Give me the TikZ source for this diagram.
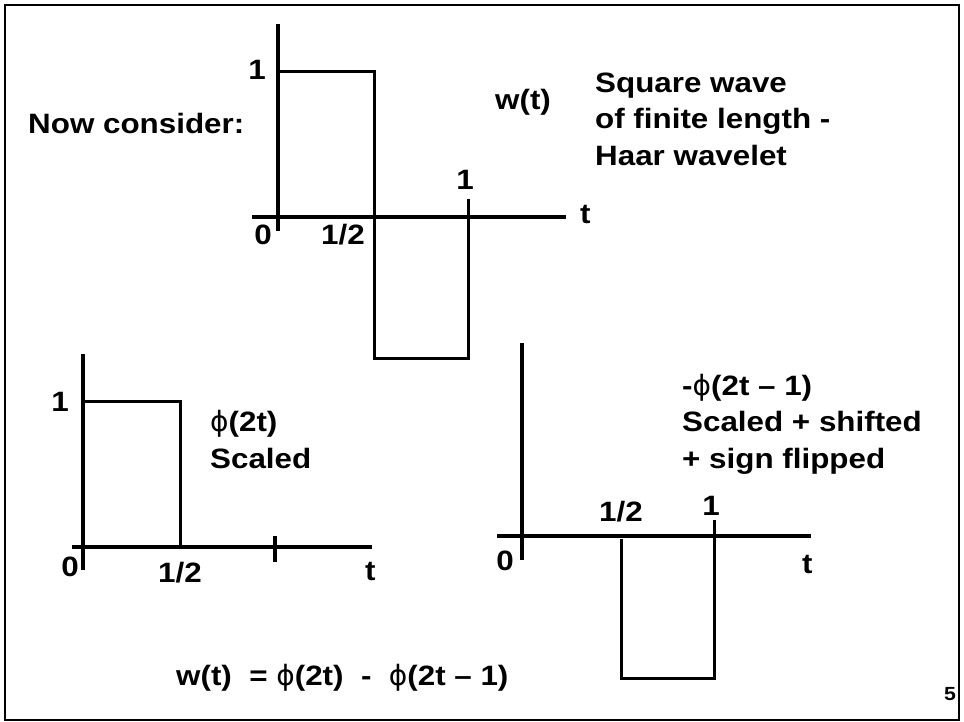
\documentclass[tikz,border=0pt]{standalone}
\usepackage{fontspec}
\setmainfont{Liberation Sans}[FakeStretch=1.12]
\newfontfamily\phifont{DejaVu Sans}
\newcommand{\ph}{{\phifont\mdseries ϕ}}
\usetikzlibrary{positioning}

\begin{document}
\begin{tikzpicture}[
  x=1pt, y=-1pt,
  lbl/.style={inner sep=0pt, font=\fontsize{28}{36.5}\selectfont\bfseries},
  txt/.style={lbl, anchor=base west, align=left},
  axis/.style={line width=3.6pt},
  sig/.style={line width=3pt, line join=miter}
]
\useasboundingbox (0,0) rectangle (964,721);
\draw[line width=2pt] (5,5) rectangle (959,720);

% top: w(t)
\draw[axis] (278,24) -- (278,231);
\draw[axis] (252,217) -- (566,217);
\draw[sig] (278,71) -- (374,71) -- (374,358) -- (468,358) -- (468,199);
\node[lbl] (w1) at (257,70) {1};
\node[lbl] (w0) at (263,235) {0};
\node[lbl] (whalf) at (343,235) {1/2};
\node[lbl] (wone) at (465,180) {1};
\node[txt] (wt) at (580,223) {t};
\node[txt] (wlab) at (495,109) {w(t)};
\node[txt] (now) at (28,133) {Now consider:};
\node[txt] (haar) at (595,165) {Square wave\\of finite length -\\Haar wavelet};

% left: phi(2t)
\draw[axis] (83,354) -- (83,570);
\draw[axis] (72,547) -- (372,547);
\draw[axis] (275,536) -- (275,562);
\draw[sig] (83,401) -- (180,401) -- (180,547);
\node[lbl] (p1) at (60,402) {1};
\node[lbl] (p0) at (70,567) {0};
\node[lbl] (phalf) at (180,573) {1/2};
\node[txt] (pt) at (365,580) {t};
\node[txt] (plab) at (210,468) {\ph(2t)\\Scaled};

% right: -phi(2t-1)
\draw[axis] (522,343) -- (522,560);
\draw[axis] (497,536) -- (811,536);
\draw[sig] (621,539) -- (621,678) -- (714,678) -- (714,520);
\node[lbl] (q0) at (505,561) {0};
\node[lbl] (qhalf) at (621,512) {1/2};
\node[lbl] (qone) at (711,506) {1};
\node[txt] (qt) at (802,573) {t};
\node[txt] (qlab) at (682,468) {-\ph(2t -- 1)\\Scaled + shifted\\+ sign flipped};

% sum
\node[txt] (sum) at (176,685) {w(t)\ \ = \ph(2t)\ \ -\ \ \ph(2t -- 1)};
\node[lbl, font=\fontsize{19}{22}\selectfont\bfseries] (page) at (950,694) {5};
\end{tikzpicture}
\end{document}
